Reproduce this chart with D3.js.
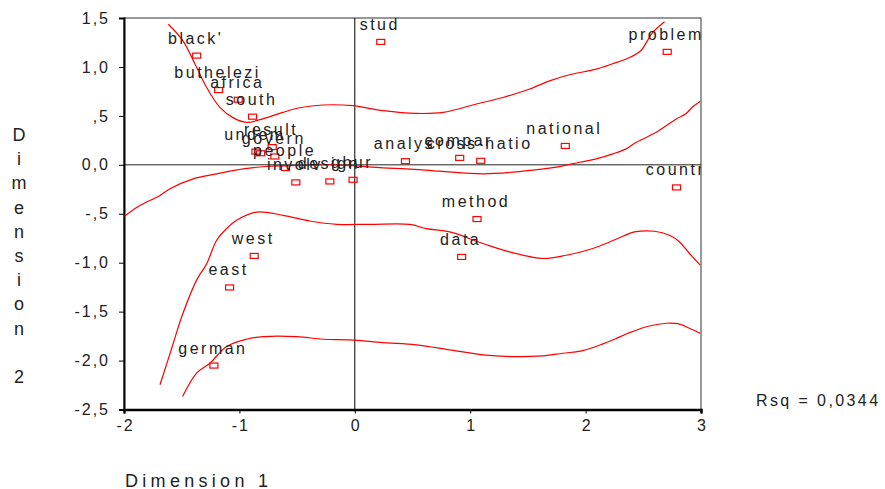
<!DOCTYPE html>
<html>
<head>
<meta charset="utf-8">
<script src="https://cdn.jsdelivr.net/npm/d3@7"></script>
<style>
    body { margin: 0; background: #fff; }
    svg text { font-family: "Liberation Sans", Arial, sans-serif; fill: #222; }
</style>
</head>
<body>
<div id="chart"></div>
<script>
// terms on the two dimensions
const terms = ["black'", 'buthelezi', 'africa', 'south', 'undem', '', 'result', 'govern', 'people',
    'involv', 'design', 'ghur', 'stud', 'analys', 'compar', 'cross-natio', 'national', 'problem',
    'countr', 'method', 'data', 'west', 'east', 'german'];
const dim1 = [-1.37, -1.18, -1.01, -0.886, -0.857, -0.816, -0.716, -0.693, -0.60,
    -0.511, -0.216, -0.015, 0.225, 0.439, 0.909, 1.091, 1.824, 2.707,
    2.788, 1.059, 0.926, -0.872, -1.085, -1.221];
const dim2 = [1.116, 0.764, 0.665, 0.492, 0.135, 0.118, 0.181, 0.085, -0.033,
    -0.18, -0.17, -0.153, 1.256, 0.037, 0.071, 0.041, 0.193, 1.154,
    -0.231, -0.554, -0.941, -0.931, -1.253, -2.051];

// fit bands as [dim1, dim2]
const upperIndiv = [[-1.616, 1.436], [-1.489, 1.266], [-1.385, 1.031], [-1.284, 0.79], [-1.169, 0.587],
    [-1.056, 0.482], [-0.938, 0.434], [-0.823, 0.461], [-0.623, 0.536], [-0.476, 0.583], [-0.277, 0.611],
    [-0.017, 0.604], [0.245, 0.553], [0.534, 0.525], [0.765, 0.536], [1.054, 0.621], [1.284, 0.688],
    [1.515, 0.774], [1.688, 0.858], [1.861, 0.92], [2.093, 0.978], [2.234, 1.032], [2.381, 1.096],
    [2.482, 1.171], [2.526, 1.248], [2.58, 1.35], [2.684, 1.462]];
const upperMean = [[-1.997, -0.526], [-1.876, -0.425], [-1.688, -0.313], [-1.602, -0.244], [-1.4, -0.143],
    [-1.197, -0.092], [-0.967, -0.041], [-0.765, -0.017], [-0.476, -0.007], [-0.158, 0.0], [0.245, -0.031],
    [0.448, -0.041], [0.736, -0.065], [1.111, -0.092], [1.457, -0.065], [1.746, -0.024], [1.948, 0.026],
    [2.093, 0.061], [2.236, 0.112], [2.352, 0.163], [2.424, 0.22], [2.612, 0.332], [2.785, 0.468],
    [2.872, 0.525], [2.929, 0.594], [2.993, 0.648]];
const lowerMean = [[-1.688, -2.247], [-1.573, -1.823], [-1.5, -1.552], [-1.371, -1.178], [-1.284, -1.012],
    [-1.197, -0.771], [-1.111, -0.652], [-1.024, -0.567], [-0.851, -0.483], [-0.621, -0.516], [-0.39, -0.574],
    [-0.158, -0.608], [0.13, -0.608], [0.476, -0.608], [0.621, -0.652], [0.823, -0.686], [1.111, -0.804],
    [1.342, -0.89], [1.63, -0.957], [1.833, -0.924], [2.063, -0.855], [2.208, -0.788], [2.323, -0.73],
    [2.424, -0.686], [2.597, -0.679], [2.727, -0.72], [2.814, -0.788], [2.9, -0.906], [2.993, -1.025]];
const lowerIndiv = [[-1.492, -2.367], [-1.371, -2.128], [-1.255, -2.026], [-1.111, -1.857], [-0.938, -1.782],
    [-0.794, -1.756], [-0.505, -1.756], [-0.274, -1.782], [-0.043, -1.789], [0.245, -1.817], [0.534, -1.84],
    [0.823, -1.891], [1.111, -1.942], [1.342, -1.959], [1.63, -1.952], [1.803, -1.925], [1.977, -1.898],
    [2.15, -1.83], [2.251, -1.782], [2.381, -1.715], [2.554, -1.647], [2.699, -1.619], [2.799, -1.623],
    [2.9, -1.67], [2.993, -1.721]];

const xTicks = [-2, -1, 0, 1, 2, 3];
const xTickLabels = ['-2', '-1', '0', '1', '2', '3'];
const yTicks = [1.5, 1, 0.5, 0, -0.5, -1, -1.5, -2, -2.5];
const yTickLabels = ['1,5', '1,0', ',5', '0,0', '-,5', '-1,0', '-1,5', '-2,0', '-2,5'];
const rsqText = 'Rsq = 0,0344';

const width = 885, height = 489;
const plotLeft = 124, plotRight = 701, plotTop = 18, plotBottom = 409.5;

const svg = d3.select('#chart').append('svg')
    .attr('width', width)
    .attr('height', height);

const x = d3.scaleLinear().domain([-2, 3]).range([plotLeft, plotRight]);
const y = d3.scaleLinear().domain([-2.5, 1.5]).range([plotBottom, plotTop]);

svg.append('clipPath').attr('id', 'plotclip')
    .append('rect')
    .attr('x', plotLeft).attr('y', plotTop)
    .attr('width', plotRight - plotLeft).attr('height', plotBottom - plotTop);

// frame
svg.append('rect')
    .attr('x', plotLeft).attr('y', plotTop)
    .attr('width', plotRight - plotLeft).attr('height', plotBottom - plotTop)
    .attr('fill', 'none')
    .attr('stroke', '#333')
    .attr('stroke-width', 1);

// zero reference lines
svg.append('line')
    .attr('x1', plotLeft).attr('x2', plotRight)
    .attr('y1', y(0)).attr('y2', y(0))
    .attr('stroke', '#222');
svg.append('line')
    .attr('x1', x(0)).attr('x2', x(0))
    .attr('y1', plotTop).attr('y2', plotBottom)
    .attr('stroke', '#000');

// axes
const xAxis = d3.axisBottom(x).tickValues(xTicks).tickSize(4).tickPadding(6)
    .tickFormat((d, i) => xTickLabels[i]);
const yAxis = d3.axisLeft(y).tickValues(yTicks).tickSize(5).tickPadding(9)
    .tickFormat((d, i) => yTickLabels[i]);

const gx = svg.append('g')
    .attr('transform', `translate(0, ${plotBottom})`)
    .call(xAxis);
gx.select('.domain').attr('stroke', '#000').attr('stroke-width', 2.5);

const gy = svg.append('g')
    .attr('transform', `translate(${plotLeft}, 0)`)
    .call(yAxis);
gy.select('.domain').attr('stroke', '#000').attr('stroke-width', 2);

svg.selectAll('.tick text')
    .attr('font-size', 16)
    .attr('fill', '#222')
    .style('letter-spacing', '2px')
    .attr('font-family', '"Liberation Sans", Arial, sans-serif');
gx.selectAll('.tick text').attr('dx', 1);
svg.selectAll('.tick line').attr('stroke', '#000');

// bands
const line = d3.line()
    .x(d => x(d[0]))
    .y(d => y(d[1]))
    .curve(d3.curveCatmullRom);

const bands = svg.append('g').attr('clip-path', 'url(#plotclip)');
for (const band of [upperIndiv, upperMean, lowerMean, lowerIndiv]) {
    bands.append('path')
        .attr('d', line(band))
        .attr('fill', 'none')
        .attr('stroke', '#f00')
        .attr('stroke-width', 1.2);
}

// points and labels
const pts = terms.map((t, i) => ({ term: t, d1: dim1[i], d2: dim2[i] }));
const marks = svg.append('g').attr('clip-path', 'url(#plotclip)');

marks.selectAll('rect.pt')
    .data(pts).enter()
    .append('rect')
    .attr('class', 'pt')
    .attr('x', d => x(d.d1) - 4)
    .attr('y', d => y(d.d2) - 2.5)
    .attr('width', 8)
    .attr('height', 5)
    .attr('fill', 'none')
    .attr('stroke', '#f00')
    .attr('stroke-width', 1.2);

marks.selectAll('text.lbl')
    .data(pts).enter()
    .append('text')
    .attr('class', 'lbl')
    .attr('x', d => x(d.d1) - 1)
    .attr('y', d => y(d.d2) - 12)
    .attr('text-anchor', 'middle')
    .attr('font-size', 16)
    .style('letter-spacing', '2.5px')
    .text(d => d.term);

// axis titles
svg.append('text')
    .attr('x', 125)
    .attr('y', 487)
    .attr('font-size', 18)
    .style('letter-spacing', '4.3px')
    .text('Dimension 1');

const yTitle = 'Dimension 2'.split('');
svg.append('g').selectAll('text')
    .data(yTitle).enter()
    .append('text')
    .attr('x', 19)
    .attr('y', (d, i) => 141 + i * 24.2)
    .attr('text-anchor', 'middle')
    .attr('font-size', 18)
    .text(d => d);

svg.append('text')
    .attr('x', 756)
    .attr('y', 406)
    .attr('font-size', 16)
    .style('letter-spacing', '2.4px')
    .text(rsqText);
</script>
</body>
</html>
